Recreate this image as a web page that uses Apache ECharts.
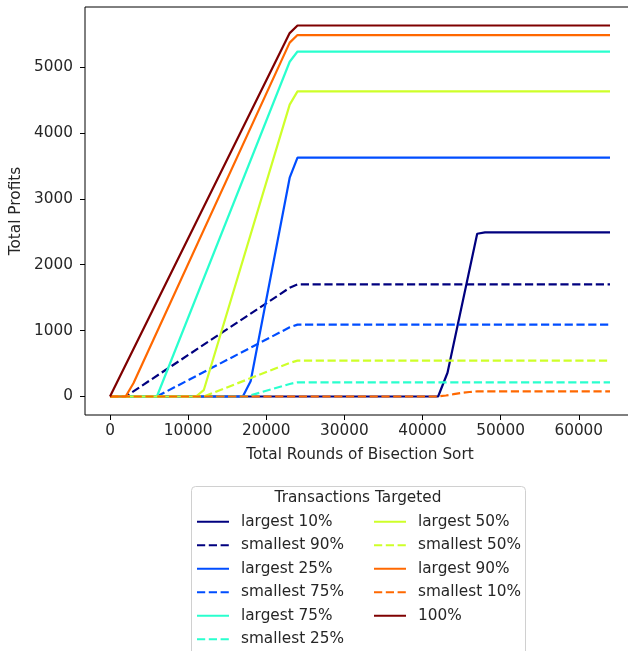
<!DOCTYPE html>
<html>
<head>
<meta charset="utf-8">
<script src="https://cdn.jsdelivr.net/npm/echarts@6/dist/echarts.min.js"></script>
<style>
  html, body { margin: 0; padding: 0; background: #fff; }
  #chart { width: 628px; height: 651px; }
</style>
</head>
<body>
<div id="chart"></div>
<script>
// Breakpoints of each profit curve: rounds of bisection sort vs total profits
const largest10Rounds  = [0, 42000, 43200, 47000, 48000, 64000];
const largest10Profit  = [0, 0, 360, 2470, 2490, 2490];
const smallest90Rounds = [0, 2000, 23000, 24000, 64000];
const smallest90Profit = [0, 0, 1650, 1700, 1700];
const largest25Rounds  = [0, 17000, 18000, 23000, 24000, 64000];
const largest25Profit  = [0, 0, 230, 3320, 3625, 3625];
const smallest75Rounds = [0, 6000, 23000, 24000, 64000];
const smallest75Profit = [0, 0, 1050, 1090, 1090];
const largest75Rounds  = [0, 6000, 23000, 24000, 64000];
const largest75Profit  = [0, 0, 5080, 5235, 5235];
const smallest25Rounds = [0, 17500, 23000, 24000, 64000];
const smallest25Profit = [0, 0, 190, 215, 215];
const largest50Rounds  = [0, 11000, 12000, 23000, 24000, 64000];
const largest50Profit  = [0, 0, 95, 4430, 4630, 4630];
const smallest50Rounds = [0, 12000, 23000, 24000, 64000];
const smallest50Profit = [0, 0, 510, 545, 545];
const largest90Rounds  = [0, 2000, 3000, 23000, 24000, 64000];
const largest90Profit  = [0, 0, 200, 5370, 5485, 5485];
const smallest10Rounds = [0, 42000, 43000, 44000, 45000, 46000, 47000, 64000];
const smallest10Profit = [0, 0, 15, 35, 55, 68, 78, 78];
const all100Rounds     = [0, 23000, 24000, 64000];
const all100Profit     = [0, 5515, 5630, 5630];

const seriesNames = ['largest 10%', 'smallest 90%', 'largest 25%', 'smallest 75%',
  'largest 75%', 'smallest 25%', 'largest 50%', 'smallest 50%',
  'largest 90%', 'smallest 10%', '100%'];

const xTicks = [0, 10000, 20000, 30000, 40000, 50000, 60000];
const yTicks = [0, 1000, 2000, 3000, 4000, 5000];

// jet colormap sampled at six evenly spaced points
const jet6 = ['#00007f', '#004dff', '#29ffce', '#ceff29', '#ff6800', '#7f0000'];

const curves = [
  [largest10Rounds, largest10Profit, 0, false],
  [smallest90Rounds, smallest90Profit, 0, true],
  [largest25Rounds, largest25Profit, 1, false],
  [smallest75Rounds, smallest75Profit, 1, true],
  [largest75Rounds, largest75Profit, 2, false],
  [smallest25Rounds, smallest25Profit, 2, true],
  [largest50Rounds, largest50Profit, 3, false],
  [smallest50Rounds, smallest50Profit, 3, true],
  [largest90Rounds, largest90Profit, 4, false],
  [smallest10Rounds, smallest10Profit, 4, true],
  [all100Rounds, all100Profit, 5, false]
];

const FONT = 'DejaVu Sans';
const FS = 15.3;
const TXT = '#262626';

const series = curves.map(function (c, i) {
  return {
    name: seriesNames[i],
    type: 'line',
    data: c[0].map(function (x, k) { return [x, c[1][k]]; }),
    symbol: 'none',
    animation: false,
    color: jet6[c[2]],
    lineStyle: {
      color: jet6[c[2]],
      width: 2.2,
      type: c[3] ? [8.2, 3.6] : 'solid'
    }
  };
});

const legendBase = {
  orient: 'vertical',
  top: 513,
  height: 200,
  padding: 0,
  itemWidth: 32,
  itemHeight: 14,
  itemGap: 6.0,
  itemStyle: { opacity: 0 },
  textStyle: { fontFamily: FONT, fontSize: FS, color: TXT, lineHeight: 17.5, padding: [0, 0, 0, 7] }
};

const plain = function (v) { return String(v); };

const chart = echarts.init(document.getElementById('chart'), null, { renderer: 'canvas' });
chart.setOption({
  backgroundColor: '#fff',
  animation: false,
  grid: {
    left: 85, right: -7, top: 7, bottom: 236,
    show: true, borderColor: '#000', borderWidth: 1,
    outerBoundsMode: 'none'
  },
  xAxis: {
    type: 'value',
    min: -3200, max: 67200,
    name: 'Total Rounds of Bisection Sort',
    nameLocation: 'middle',
    nameGap: 33,
    nameTextStyle: { fontFamily: FONT, fontSize: FS, color: TXT },
    axisLine: { show: false, onZero: false },
    splitLine: { show: false },
    axisTick: { show: true, length: 5, lineStyle: { color: '#000' }, customValues: xTicks },
    axisLabel: { fontFamily: FONT, fontSize: FS, color: TXT, margin: 9, customValues: xTicks, formatter: plain }
  },
  yAxis: {
    type: 'value',
    min: -281, max: 5911,
    name: 'Total Profits',
    nameLocation: 'middle',
    nameGap: 56,
    nameTextStyle: { fontFamily: FONT, fontSize: FS, color: TXT },
    axisLine: { show: false, onZero: false },
    splitLine: { show: false },
    axisTick: { show: true, length: 5, lineStyle: { color: '#000' }, customValues: yTicks },
    axisLabel: { fontFamily: FONT, fontSize: FS, color: TXT, margin: 12, customValues: yTicks, formatter: plain }
  },
  graphic: [
    {
      type: 'rect', z: 0,
      shape: { x: 191.5, y: 486.5, width: 334, height: 200, r: 4 },
      style: { fill: 'rgba(255,255,255,0.8)', stroke: '#d0d0d0', lineWidth: 1 }
    },
    {
      type: 'text', z: 1,
      x: 358, y: 498.5,
      style: {
        text: 'Transactions Targeted', fontFamily: FONT, fontSize: FS,
        fill: TXT, align: 'center', verticalAlign: 'middle'
      }
    }
  ],
  legend: [
    Object.assign({ left: 196, data: seriesNames.slice(0, 6) }, legendBase),
    Object.assign({ left: 373, data: seriesNames.slice(6) }, legendBase)
  ],
  series: series
});
</script>
</body>
</html>
